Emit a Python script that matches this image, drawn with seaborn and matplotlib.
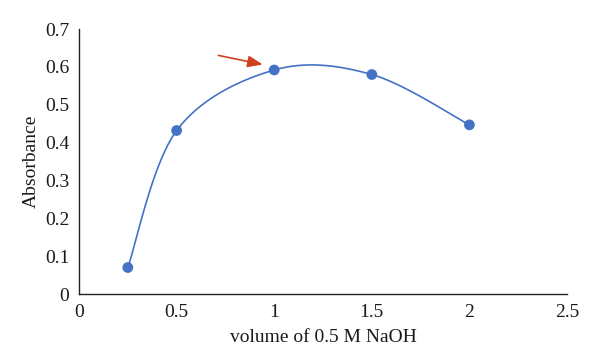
import numpy as np
import pandas as pd
import matplotlib
matplotlib.use("Agg")
import matplotlib.pyplot as plt
import seaborn as sns

# data
volume = [0.25, 0.5, 1.0, 1.5, 2.0]
absorbance = [0.07, 0.432, 0.592, 0.580, 0.447]
x_ticks = [0, 0.5, 1, 1.5, 2, 2.5]
x_tick_labels = ["0", "0.5", "1", "1.5", "2", "2.5"]
y_ticks = [0, 0.1, 0.2, 0.3, 0.4, 0.5, 0.6, 0.7]
y_tick_labels = ["0", "0.1", "0.2", "0.3", "0.4", "0.5", "0.6", "0.7"]

df = pd.DataFrame({"volume": volume, "absorbance": absorbance})

sns.set_style("white")
plt.rcParams["font.family"] = ["Liberation Serif", "DejaVu Serif"]

fig = plt.figure(figsize=(6, 3.64), dpi=100)
ax = fig.add_axes([0.1317, 0.1923, 0.8133, 0.7277])
ax.set_xlim(0, 2.5)
ax.set_ylim(0, 0.7)

# Excel-style smoothed line: Bezier segments built in screen space
pts = ax.transData.transform(np.column_stack([volume, absorbance]))
n = len(pts)
curve = []
for i in range(n - 1):
    p0 = pts[max(i - 1, 0)]
    p1 = pts[i]
    p2 = pts[i + 1]
    p3 = pts[min(i + 2, n - 1)]
    c1 = p1 + (p2 - p0) / 6
    c2 = p2 - (p3 - p1) / 6
    t = np.linspace(0, 1, 40)[:, None]
    seg = ((1 - t) ** 3) * p1 + 3 * ((1 - t) ** 2) * t * c1 + 3 * (1 - t) * t ** 2 * c2 + t ** 3 * p2
    curve.append(seg if i == 0 else seg[1:])
curve = ax.transData.inverted().transform(np.vstack(curve))
smooth = pd.DataFrame({"x": curve[:, 0], "y": curve[:, 1]})

sns.lineplot(data=smooth, x="x", y="y", sort=False, color="#4472C4", linewidth=1.2, ax=ax)
sns.scatterplot(data=df, x="volume", y="absorbance", color="#4472C4", s=60,
                edgecolor="none", ax=ax, zorder=3)

ax.annotate("", xy=(0.955, 0.605), xytext=(0.70, 0.632),
            arrowprops=dict(arrowstyle="-|>,head_length=0.9,head_width=0.35",
                            color="#D0401C", lw=1.2))

ax.set_xticks(x_ticks)
ax.set_xticklabels(x_tick_labels)
ax.set_yticks(y_ticks)
ax.set_yticklabels(y_tick_labels)
ax.tick_params(axis="both", length=0, labelsize=14, pad=7, colors="#1a1a1a")
ax.set_xlabel("volume of 0.5 M NaOH", fontsize=14, labelpad=6, color="#1a1a1a")
ax.set_ylabel("Absorbance", fontsize=14, labelpad=4, color="#1a1a1a")

sns.despine(ax=ax)
for side in ["left", "bottom"]:
    ax.spines[side].set_color("#222222")
    ax.spines[side].set_linewidth(1.0)

fig.savefig("out.png", dpi=100)
